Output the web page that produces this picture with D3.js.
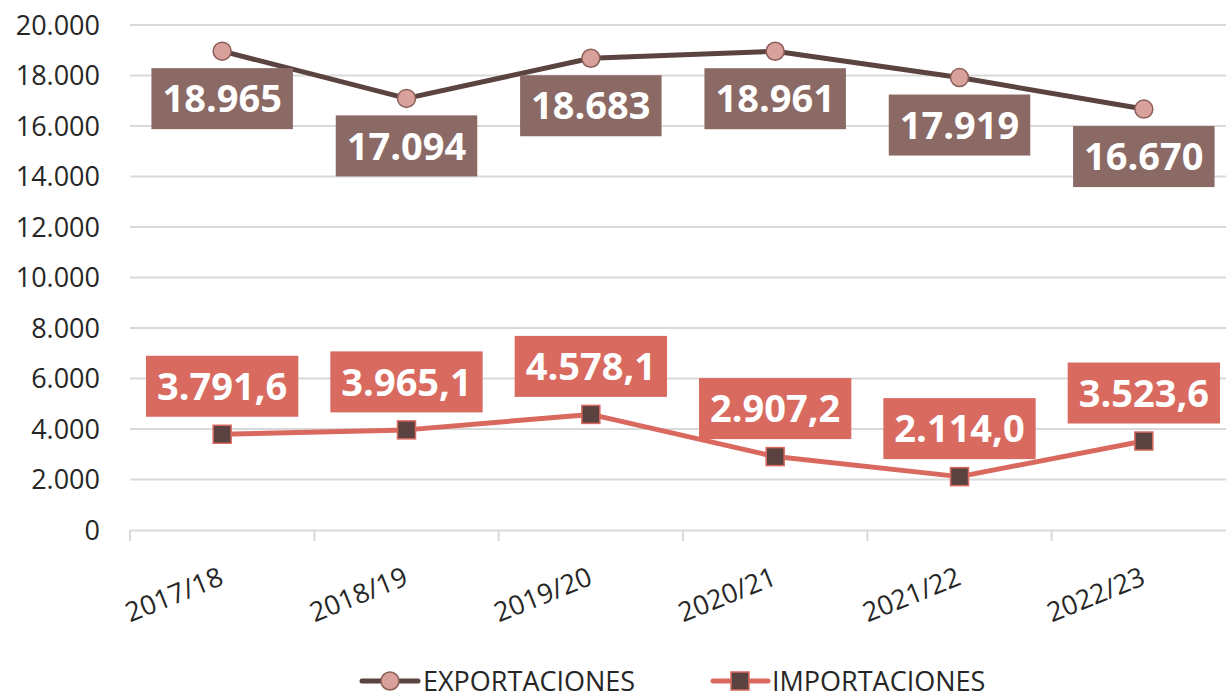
<!DOCTYPE html>
<html><head><meta charset="utf-8">
<script src="https://cdn.jsdelivr.net/npm/d3@7"></script>
<style>html,body{margin:0;padding:0;background:#fff;overflow:hidden}</style>
</head><body>
<svg id="c" width="1226" height="698"></svg>
<script>
const categories = ["2017/18","2018/19","2019/20","2020/21","2021/22","2022/23"];
const exportaciones = [18965,17094,18683,18961,17919,16670];
const importaciones = [3791.6,3965.1,4578.1,2907.2,2114.0,3523.6];
const yTicks = [0,2000,4000,6000,8000,10000,12000,14000,16000,18000,20000];
const seriesNames = ["EXPORTACIONES","IMPORTACIONES"];

const loc = d3.formatLocale({decimal:",",thousands:".",grouping:[3],currency:["",""]});
const fInt = loc.format(",.0f"), fDec = loc.format(",.1f");

const svg = d3.select("#c");
const L=130, R=1236, T=25, B=530;
const x = d3.scaleBand().domain(categories).range([L,R]);
const y = d3.scaleLinear().domain([0,20000]).range([B,T]);
const font = "'Open Sans', sans-serif";

// gridlines
svg.append("g").selectAll("line").data(yTicks.filter(d=>d>0)).join("line")
  .attr("x1",L).attr("x2",R).attr("y1",d=>y(d)).attr("y2",d=>y(d))
  .attr("stroke","#d9d9d9").attr("stroke-width",2);

// y axis labels
const ya = svg.append("g").attr("transform",`translate(${L},0)`)
  .call(d3.axisLeft(y).tickValues(yTicks).tickFormat(fInt).tickSize(0).tickPadding(30));
ya.select(".domain").remove();
ya.selectAll("text").attr("font-family",font).attr("font-size",27).attr("fill","#262626").attr("dy","0.35em");

// x axis
const xa = svg.append("g").attr("transform",`translate(0,${B})`)
  .call(d3.axisBottom(x).tickSize(0).tickFormat(""));
xa.select(".domain").attr("stroke","#d9d9d9").attr("stroke-width",2);
svg.append("g").selectAll("line").data(categories.concat([null])).join("line")
  .attr("x1",(d,i)=>L+i*x.bandwidth()).attr("x2",(d,i)=>L+i*x.bandwidth())
  .attr("y1",B).attr("y2",B+11).attr("stroke","#d9d9d9").attr("stroke-width",2);
svg.append("g").selectAll("text").data(categories).join("text")
  .attr("transform",d=>`translate(${x(d)+x.bandwidth()/2+3},584) rotate(-22)`)
  .attr("text-anchor","end").attr("font-family",font).attr("font-size",27).attr("fill","#262626")
  .text(d=>d);

const cx = d => x(d)+x.bandwidth()/2;
const line = d3.line().x((v,i)=>cx(categories[i])).y(v=>y(v));

// import series
svg.append("path").datum(importaciones).attr("d",line).attr("fill","none")
  .attr("stroke","#d9695f").attr("stroke-width",5).attr("stroke-linejoin","round");
svg.append("g").selectAll("rect").data(importaciones).join("rect")
  .attr("x",(v,i)=>cx(categories[i])-9).attr("y",v=>y(v)-9).attr("width",18).attr("height",18)
  .attr("fill","#5a4240").attr("stroke","#d9695f").attr("stroke-width",1.5);

// export series
svg.append("path").datum(exportaciones).attr("d",line).attr("fill","none")
  .attr("stroke","#5b4340").attr("stroke-width",5).attr("stroke-linejoin","round");
svg.append("g").selectAll("circle").data(exportaciones).join("circle")
  .attr("cx",(v,i)=>cx(categories[i])).attr("cy",v=>y(v)).attr("r",9)
  .attr("fill","#d9a19b").attr("stroke","#8b5e58").attr("stroke-width",1.5);

// labels
function labels(data, fmt, fill, below){
  const g = svg.append("g");
  data.forEach((v,i)=>{
    const px = cx(categories[i]), py = y(v);
    const cy = below ? py+47.5 : py-48;
    const gg = g.append("g");
    const r = gg.append("rect").attr("fill",fill);
    const t = gg.append("text").attr("x",px).attr("y",cy).attr("dy","0.36em")
      .attr("text-anchor","middle").attr("font-family",font).attr("font-weight",700)
      .attr("font-size",38).attr("fill","#fff").text(fmt(v));
    const w = t.node().getComputedTextLength()+22;
    r.attr("x",px-w/2).attr("y",cy-30.5).attr("width",w).attr("height",61);
  });
}
labels(exportaciones,fInt,"#8b6964",true);
labels(importaciones,fDec,"#d96a60",false);

// legend
const LY = 681;
const lg = svg.append("g");
lg.append("line").attr("x1",362).attr("x2",418).attr("y1",LY).attr("y2",LY).attr("stroke","#5b4340").attr("stroke-width",5).attr("stroke-linecap","round");
lg.append("circle").attr("cx",390).attr("cy",LY).attr("r",9).attr("fill","#d9a19b").attr("stroke","#8b5e58").attr("stroke-width",1.5);
lg.append("text").attr("x",423).attr("y",LY+10).attr("font-family",font).attr("font-size",27).attr("fill","#262626").text(seriesNames[0]);
lg.append("line").attr("x1",713).attr("x2",768).attr("y1",LY).attr("y2",LY).attr("stroke","#d9695f").attr("stroke-width",5).attr("stroke-linecap","round");
lg.append("rect").attr("x",731).attr("y",LY-9).attr("width",18).attr("height",18).attr("fill","#5a4240").attr("stroke","#d9695f").attr("stroke-width",1.5);
lg.append("text").attr("x",772).attr("y",LY+10).attr("font-family",font).attr("font-size",27).attr("fill","#262626").text(seriesNames[1]);
</script>
</body></html>
